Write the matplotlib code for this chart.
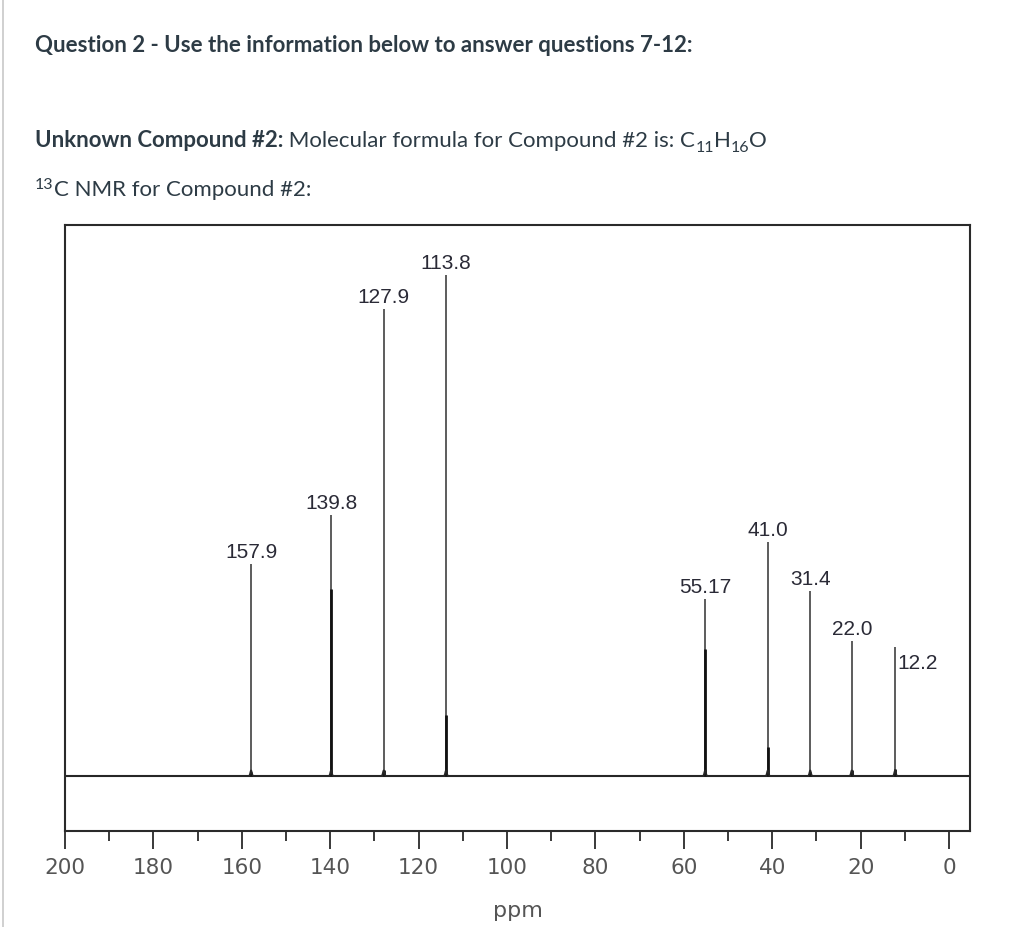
import numpy as np
import matplotlib
matplotlib.use("Agg")
import matplotlib.pyplot as plt
from matplotlib.ticker import MultipleLocator

# ---- data ----
peak_ppm = [157.9, 139.8, 127.9, 113.8, 55.17, 41.0, 31.4, 22.0, 12.2]
peak_labels = ["157.9", "139.8", "127.9", "113.8", "55.17", "41.0", "31.4", "22.0", "12.2"]
peak_height = [42.3, 52.1, 93.2, 100.0, 35.3, 46.7, 36.9, 26.9, 25.7]
inner_height = [0.8, 37.3, 1.2, 12.2, 25.3, 5.8, 0.8, 1.2, 1.4]
major_ticks = [200, 180, 160, 140, 120, 100, 80, 60, 40, 20, 0]

W, H = 1024, 928
fig = plt.figure(figsize=(W / 100, H / 100), dpi=100)
fig.patch.set_facecolor("white")

# page border on the left
fig.add_artist(plt.Line2D([3 / W, 3 / W], [0, 1], transform=fig.transFigure,
                          color="#c8c8c8", lw=1.2))

renderer = fig.canvas.get_renderer()
hdr_color = "#2d3b45"


def put(x, y, s, size=16, weight="normal"):
    t = fig.text(x / W, 1 - y / H, s, fontsize=size, fontweight=weight,
                 family="Lato", color=hdr_color, va="baseline", ha="left")
    bb = t.get_window_extent(renderer)
    return bb.x1


put(35, 52, "Question 2 - Use the information below to answer questions 7-12:", 16, "bold")

x = put(35, 147, "Unknown Compound #2:", 16, "bold")
x = put(x, 147, " Molecular formula for Compound #2 is: C", 16)
x = put(x, 152, "11", 11.5)
x = put(x, 147, "H", 16)
x = put(x, 152, "16", 11.5)
x = put(x, 147, "O", 16)

x = put(35, 189, "13", 11.5)
x = put(x, 196, "C NMR for Compound #2:", 16)

# ---- spectrum axes ----
ax = fig.add_axes([65 / W, (H - 832) / H, 905 / W, 606 / H])
xmin, xmax = 200, -4.75
ax.set_xlim(xmin, xmax)
ax.set_ylim(-11.0, 110.0)

line_c = "#262626"
ax.axhline(0, color=line_c, lw=1.5, zorder=2)
ax.vlines(peak_ppm, 0, peak_height, color="#303030", lw=1.1, zorder=3)
ax.vlines(peak_ppm, 0, inner_height, color="#111111", lw=2.0, zorder=3)
for p in peak_ppm:
    bump_x = np.linspace(p - 0.7, p + 0.7, 41)
    bump_y = 1.1 * np.exp(-((bump_x - p) / 0.25) ** 2)
    ax.plot(bump_x, bump_y, color=line_c, lw=1.2, zorder=3)

# peak labels
label_color = "#2a2a36"
for p, h, lab in zip(peak_ppm, peak_height, peak_labels):
    if lab == "12.2":
        ax.annotate(lab, (p, h), xytext=(2, -11), textcoords="offset points",
                    ha="left", va="center", fontsize=15, family="Liberation Sans",
                    color=label_color)
    else:
        ax.annotate(lab, (p, h), xytext=(0, 5), textcoords="offset points",
                    ha="center", va="baseline", fontsize=15, family="Liberation Sans",
                    color=label_color)

# axes styling
for s in ax.spines.values():
    s.set_color("#2a2a2a")
    s.set_linewidth(1.5)
ax.set_yticks([])
ax.set_xticks(major_ticks)
ax.xaxis.set_minor_locator(MultipleLocator(10))
ax.tick_params(axis="x", which="major", direction="out", length=13, width=1.3,
               color="#2a2a2a", labelsize=15.5, labelcolor="#555555", pad=6)
ax.tick_params(axis="x", which="minor", direction="out", length=7.5, width=1.3,
               color="#2a2a2a")
for lbl in ax.get_xticklabels():
    lbl.set_family("DejaVu Sans")
ax.set_xlabel("ppm", fontsize=16, color="#555555", labelpad=16, family="DejaVu Sans")

fig.savefig("out.png", dpi=100, facecolor="white")
